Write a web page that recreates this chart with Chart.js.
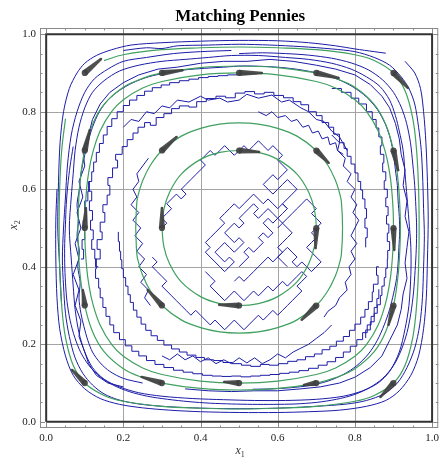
<!DOCTYPE html>
<html>
<head>
<meta charset="utf-8">
<script src="https://cdn.jsdelivr.net/npm/chart.js@4.4.0/dist/chart.umd.min.js"></script>
<style>
  html, body { margin: 0; padding: 0; background: #fff; }
  #wrap { width: 443px; height: 460px; }
</style>
</head>
<body>
<div id="wrap"><canvas id="chart" width="443" height="460"></canvas></div>
<script>
// axis range / ticks
const axisMin = -0.016, axisMax = 1.016;
const gridAt = [0.2, 0.4, 0.6, 0.8];
const majorTicks = [0, 0.2, 0.4, 0.6, 0.8, 1.0];
const minorTicks = [0.05, 0.1, 0.15, 0.25, 0.3, 0.35, 0.45, 0.5, 0.55, 0.65, 0.7, 0.75, 0.85, 0.9, 0.95];

// unit square
const boxX = [0, 1, 1, 0, 0];
const boxY = [0, 0, 1, 1, 0];

// flow arrows (start on grid, end point)
const arrowFrom = [
  [0.1,0.9],[0.3,0.9],[0.5,0.9],[0.7,0.9],[0.9,0.9],[0.9,0.7],[0.9,0.5],[0.9,0.3],
  [0.9,0.1],[0.7,0.1],[0.5,0.1],[0.3,0.1],[0.1,0.1],[0.1,0.3],[0.1,0.5],[0.1,0.7],
  [0.3,0.7],[0.5,0.7],[0.7,0.7],[0.7,0.5],[0.7,0.3],[0.5,0.3],[0.3,0.3],[0.3,0.5]
];
const arrowTo = [
  [0.142,0.936],[0.353,0.907],[0.559,0.9],[0.758,0.887],[0.938,0.861],[0.912,0.649],[0.902,0.443],[0.887,0.25],
  [0.866,0.064],[0.668,0.095],[0.461,0.103],[0.247,0.116],[0.067,0.134],[0.095,0.34],[0.103,0.552],[0.113,0.753],
  [0.338,0.735],[0.552,0.696],[0.732,0.668],[0.698,0.448],[0.662,0.263],[0.448,0.302],[0.263,0.34],[0.3,0.552]
];

// green orbits
const green1 = [0.3,0.5, 0.305,0.548, 0.32,0.593, 0.35,0.639, 0.4,0.677, 0.45,0.695, 0.5,0.7, 0.55,0.695, 0.6,0.677, 0.65,0.639, 0.68,0.593, 0.695,0.548, 0.7,0.5, 0.695,0.452, 0.68,0.407, 0.65,0.361, 0.6,0.323, 0.55,0.305, 0.5,0.3, 0.45,0.305, 0.4,0.323, 0.35,0.361, 0.32,0.407, 0.305,0.452, 0.3,0.5];
const green2 = [0.232,0.5, 0.235,0.568, 0.24,0.591, 0.25,0.622, 0.27,0.662, 0.3,0.7, 0.35,0.737, 0.4,0.757, 0.45,0.768, 0.5,0.771, 0.55,0.768, 0.6,0.757, 0.65,0.737, 0.7,0.7, 0.73,0.662, 0.75,0.622, 0.76,0.591, 0.765,0.568, 0.768,0.5, 0.765,0.432, 0.76,0.409, 0.75,0.378, 0.73,0.338, 0.7,0.3, 0.65,0.263, 0.6,0.243, 0.55,0.232, 0.5,0.229, 0.45,0.232, 0.4,0.243, 0.35,0.263, 0.3,0.3, 0.27,0.338, 0.25,0.378, 0.24,0.409, 0.235,0.432, 0.232,0.5];
const green3 = [0.1,0.5, 0.101,0.547, 0.105,0.603, 0.11,0.642, 0.12,0.692, 0.14,0.751, 0.17,0.801, 0.2,0.831, 0.25,0.861, 0.3,0.878, 0.4,0.895, 0.5,0.9, 0.6,0.895, 0.7,0.878, 0.75,0.861, 0.8,0.831, 0.83,0.801, 0.86,0.751, 0.88,0.692, 0.89,0.642, 0.895,0.603, 0.899,0.547, 0.9,0.5, 0.899,0.453, 0.895,0.397, 0.89,0.358, 0.88,0.308, 0.86,0.249, 0.83,0.199, 0.8,0.169, 0.75,0.139, 0.7,0.122, 0.6,0.105, 0.5,0.1, 0.4,0.105, 0.3,0.122, 0.25,0.139, 0.2,0.169, 0.17,0.199, 0.14,0.249, 0.12,0.308, 0.11,0.358, 0.105,0.397, 0.101,0.453, 0.1,0.5];
const green4 = [0.082,0.5, 0.085,0.584, 0.09,0.639, 0.1,0.7, 0.12,0.767, 0.15,0.819, 0.2,0.863, 0.25,0.886, 0.3,0.9, 0.4,0.914, 0.5,0.918, 0.6,0.914, 0.7,0.9, 0.75,0.886, 0.8,0.863, 0.85,0.819, 0.88,0.767, 0.9,0.7, 0.91,0.639, 0.915,0.584, 0.918,0.5, 0.915,0.416, 0.91,0.361, 0.9,0.3, 0.88,0.233, 0.85,0.181, 0.8,0.137, 0.75,0.114, 0.7,0.1, 0.6,0.086, 0.5,0.082, 0.4,0.086, 0.3,0.1, 0.25,0.114, 0.2,0.137, 0.15,0.181, 0.12,0.233, 0.1,0.3, 0.09,0.361, 0.085,0.416, 0.082,0.5];
const green5 = [0.15,0.932, 0.2,0.947, 0.3,0.96, 0.4,0.965, 0.5,0.967, 0.6,0.965, 0.7,0.96, 0.8,0.947, 0.85,0.932, 0.9,0.9, 0.93,0.854, 0.95,0.782, 0.96,0.698, 0.965,0.601, 0.9665,0.5, 0.965,0.399, 0.96,0.302, 0.95,0.218, 0.93,0.146, 0.9,0.1, 0.85,0.068, 0.8,0.053, 0.7,0.04, 0.6,0.035, 0.5,0.033, 0.4,0.035, 0.3,0.04, 0.2,0.053, 0.15,0.068, 0.1,0.1, 0.07,0.146, 0.05,0.218, 0.04,0.302, 0.035,0.399, 0.0335,0.5, 0.035,0.601, 0.04,0.698, 0.05,0.782];

// blue sample paths hugging the border
const pathOuterA = [0.04,0.30, 0.035,0.40, 0.03,0.50, 0.032,0.62, 0.036,0.72, 0.045,0.80, 0.06,0.86, 0.08,0.90, 0.1,0.925, 0.13,0.945, 0.17,0.96, 0.22,0.972, 0.3,0.978, 0.4,0.982, 0.5,0.984, 0.6,0.983, 0.68,0.978, 0.75,0.97, 0.8,0.962, 0.85,0.955, 0.88,0.951];
const pathOuterB = [0.2,0.958, 0.26,0.965, 0.3,0.963, 0.34,0.97, 0.42,0.972, 0.5,0.974, 0.58,0.972, 0.66,0.968, 0.74,0.962, 0.8,0.955, 0.85,0.94, 0.89,0.92, 0.92,0.89, 0.94,0.86, 0.955,0.82, 0.965,0.76, 0.972,0.70, 0.976,0.62, 0.978,0.55, 0.98,0.48, 0.978,0.40, 0.975,0.32, 0.968,0.25, 0.955,0.19, 0.935,0.14, 0.91,0.10, 0.875,0.072, 0.83,0.055, 0.78,0.046, 0.7,0.04, 0.62,0.036, 0.54,0.034, 0.46,0.034, 0.38,0.036, 0.3,0.04, 0.24,0.046, 0.19,0.056, 0.15,0.072, 0.12,0.095, 0.095,0.125, 0.075,0.165, 0.06,0.22, 0.05,0.28, 0.045,0.35, 0.042,0.42, 0.045,0.5, 0.05,0.58, 0.055,0.66, 0.065,0.74, 0.08,0.8, 0.1,0.85, 0.125,0.885, 0.16,0.91, 0.2,0.93, 0.26,0.94, 0.33,0.95, 0.4,0.955, 0.48,0.958];
const pathOuterC = [0.07,0.35, 0.065,0.42, 0.06,0.5, 0.065,0.58, 0.07,0.64, 0.075,0.7, 0.085,0.76, 0.1,0.81, 0.12,0.85, 0.15,0.88, 0.19,0.905, 0.24,0.92, 0.3,0.93, 0.36,0.935, 0.42,0.94, 0.48,0.945, 0.55,0.945, 0.62,0.94, 0.68,0.935, 0.74,0.925, 0.79,0.91, 0.83,0.89, 0.865,0.865, 0.89,0.83, 0.905,0.79, 0.915,0.75, 0.925,0.7, 0.93,0.64, 0.935,0.58, 0.94,0.52, 0.945,0.45, 0.945,0.38, 0.94,0.3, 0.93,0.24, 0.915,0.18, 0.89,0.13, 0.86,0.1, 0.82,0.08, 0.77,0.066, 0.7,0.058, 0.62,0.055, 0.54,0.055, 0.46,0.057, 0.38,0.06, 0.3,0.066, 0.24,0.075, 0.19,0.09, 0.15,0.11, 0.12,0.14, 0.1,0.18, 0.085,0.23, 0.075,0.29, 0.07,0.35];
const pathOuterD = [0.93,0.93, 0.955,0.9, 0.97,0.86, 0.978,0.8, 0.984,0.72, 0.988,0.62, 0.99,0.52, 0.988,0.42, 0.985,0.32, 0.978,0.24, 0.965,0.17, 0.945,0.12, 0.915,0.08, 0.88,0.055, 0.83,0.04, 0.76,0.03, 0.68,0.026, 0.6,0.024, 0.5,0.024, 0.4,0.026, 0.32,0.03, 0.25,0.036, 0.19,0.045, 0.14,0.06, 0.1,0.085, 0.07,0.12, 0.05,0.17, 0.035,0.24, 0.028,0.32, 0.025,0.42, 0.025,0.52, 0.028,0.6];
const pathOuterE = [0.25,0.1, 0.2,0.112, 0.165,0.13, 0.14,0.152, 0.12,0.18, 0.108,0.21, 0.098,0.245, 0.09,0.28, 0.085,0.32, 0.088,0.36, 0.082,0.4, 0.086,0.44, 0.08,0.48, 0.084,0.52, 0.08,0.56, 0.086,0.6, 0.09,0.64, 0.098,0.68, 0.108,0.72, 0.12,0.76, 0.138,0.8, 0.16,0.83, 0.19,0.855, 0.225,0.875, 0.265,0.89, 0.31,0.9, 0.36,0.908, 0.41,0.912, 0.46,0.915, 0.51,0.918, 0.56,0.917, 0.61,0.914, 0.66,0.908, 0.71,0.898, 0.755,0.884, 0.795,0.864, 0.83,0.838, 0.858,0.806, 0.878,0.77, 0.892,0.73, 0.9,0.69, 0.905,0.65, 0.91,0.61, 0.912,0.57, 0.915,0.53, 0.916,0.49, 0.914,0.45, 0.912,0.41, 0.908,0.37, 0.9,0.33, 0.89,0.29, 0.876,0.25, 0.858,0.21, 0.835,0.175, 0.805,0.145, 0.77,0.122, 0.73,0.105, 0.685,0.094, 0.635,0.088, 0.585,0.085, 0.535,0.084];
const pathOuterF = [0.5,0.95, 0.56,0.952, 0.62,0.95, 0.68,0.946, 0.74,0.938, 0.79,0.926, 0.835,0.908, 0.872,0.882, 0.9,0.85, 0.92,0.812, 0.934,0.77, 0.944,0.72, 0.95,0.665, 0.955,0.61, 0.958,0.555, 0.96,0.5, 0.959,0.445, 0.956,0.39, 0.952,0.335, 0.945,0.28, 0.935,0.23, 0.92,0.185, 0.9,0.145, 0.872,0.112, 0.838,0.088, 0.798,0.07, 0.752,0.058, 0.7,0.05, 0.645,0.046, 0.59,0.045, 0.535,0.045, 0.48,0.046, 0.425,0.048, 0.37,0.052, 0.315,0.058, 0.262,0.066, 0.215,0.078, 0.175,0.094, 0.14,0.116, 0.112,0.144, 0.09,0.178, 0.074,0.218, 0.062,0.262, 0.054,0.31, 0.05,0.36, 0.048,0.41, 0.048,0.46, 0.05,0.51, 0.052,0.56, 0.056,0.61, 0.062,0.66, 0.07,0.71];

// blue zigzag paths in the middle ring
const pathZig = [0.2,0.09, 0.16,0.1, 0.13,0.12, 0.11,0.15, 0.1,0.18, 0.085,0.22, 0.09,0.26, 0.075,0.3, 0.085,0.34, 0.07,0.38, 0.085,0.42, 0.075,0.46, 0.09,0.5, 0.08,0.54, 0.095,0.58, 0.085,0.62, 0.1,0.66, 0.095,0.7, 0.11,0.74, 0.12,0.78, 0.14,0.82, 0.165,0.85, 0.2,0.875, 0.24,0.895, 0.29,0.91, 0.34,0.915, 0.4,0.925, 0.46,0.93, 0.52,0.93, 0.58,0.935, 0.64,0.93, 0.7,0.92, 0.75,0.91, 0.8,0.895, 0.84,0.87, 0.87,0.84, 0.89,0.81, 0.905,0.77, 0.915,0.73, 0.92,0.69, 0.93,0.65, 0.925,0.61, 0.935,0.57, 0.93,0.53, 0.94,0.49, 0.935,0.45, 0.93,0.41, 0.935,0.37, 0.925,0.33, 0.92,0.29, 0.91,0.25, 0.89,0.21, 0.87,0.17, 0.84,0.14, 0.8,0.115, 0.76,0.1, 0.71,0.09, 0.66,0.085, 0.6,0.08, 0.54,0.08, 0.48,0.078, 0.42,0.08, 0.36,0.085];
const pathTopZig = [0.2,0.76, 0.22,0.78, 0.24,0.775, 0.26,0.8, 0.28,0.795, 0.3,0.815, 0.32,0.81, 0.34,0.83, 0.37,0.825, 0.4,0.84, 0.42,0.83, 0.45,0.835, 0.47,0.825, 0.5,0.83, 0.52,0.845, 0.55,0.835, 0.585,0.843, 0.61,0.825, 0.63,0.83, 0.66,0.81, 0.68,0.8, 0.7,0.78, 0.72,0.775, 0.74,0.75, 0.76,0.735, 0.78,0.7];
const zigMidRight = [0.74,0.74, 0.76,0.72, 0.755,0.7, 0.775,0.68, 0.77,0.66, 0.79,0.64, 0.78,0.62, 0.8,0.6, 0.79,0.58, 0.805,0.56, 0.795,0.54, 0.81,0.52, 0.8,0.5, 0.79,0.48, 0.805,0.46, 0.79,0.44, 0.8,0.42, 0.785,0.4, 0.79,0.38, 0.775,0.36, 0.78,0.34, 0.76,0.32, 0.75,0.3, 0.73,0.285, 0.72,0.27];
const zigBottom = [0.3,0.17, 0.32,0.16, 0.34,0.175, 0.36,0.16, 0.38,0.17, 0.4,0.155, 0.42,0.165, 0.44,0.15, 0.46,0.16, 0.48,0.15, 0.5,0.165, 0.52,0.152, 0.54,0.165, 0.56,0.15, 0.58,0.16, 0.6,0.175, 0.62,0.165, 0.64,0.18, 0.66,0.19, 0.68,0.2, 0.7,0.215, 0.72,0.23, 0.74,0.25];
const zigLeftMid = [0.27,0.3, 0.255,0.32, 0.265,0.34, 0.245,0.36, 0.26,0.38, 0.24,0.4, 0.255,0.42, 0.235,0.44, 0.25,0.46, 0.23,0.48, 0.245,0.5, 0.225,0.52, 0.24,0.54, 0.22,0.56, 0.235,0.58, 0.225,0.6, 0.24,0.62, 0.235,0.64, 0.25,0.66, 0.265,0.68];
const zigUpperRight = [0.55,0.8, 0.57,0.79, 0.585,0.8, 0.6,0.785, 0.62,0.79, 0.635,0.775, 0.65,0.78, 0.665,0.76, 0.68,0.765, 0.69,0.745, 0.705,0.75, 0.715,0.73, 0.73,0.735, 0.735,0.715, 0.75,0.72, 0.755,0.7, 0.77,0.69];

// blue staircase paths
const stairTop = [0.135,0.40, 0.128,0.42, 0.14,0.445, 0.132,0.47, 0.145,0.49, 0.14,0.515, 0.152,0.54, 0.147,0.56, 0.158,0.585, 0.165,0.61, 0.16,0.63, 0.172,0.655, 0.185,0.675, 0.18,0.69, 0.197,0.71, 0.21,0.728, 0.225,0.745, 0.238,0.76, 0.255,0.772, 0.27,0.765, 0.285,0.785, 0.305,0.795, 0.325,0.808, 0.345,0.815, 0.37,0.812, 0.39,0.826, 0.415,0.834, 0.44,0.84, 0.465,0.836, 0.49,0.848, 0.515,0.852, 0.54,0.846, 0.565,0.85, 0.59,0.842, 0.615,0.836, 0.64,0.826, 0.66,0.818, 0.68,0.8, 0.7,0.79, 0.715,0.772, 0.732,0.76, 0.745,0.742, 0.76,0.72, 0.772,0.705, 0.78,0.685, 0.79,0.665, 0.8,0.642, 0.808,0.62, 0.815,0.598, 0.82,0.575, 0.826,0.55, 0.83,0.525, 0.826,0.5, 0.832,0.475, 0.828,0.45];
const stairBottom = [0.862,0.40, 0.856,0.378, 0.86,0.355, 0.848,0.335, 0.845,0.31, 0.835,0.29, 0.826,0.27, 0.815,0.252, 0.8,0.236, 0.786,0.22, 0.77,0.208, 0.752,0.195, 0.735,0.186, 0.715,0.175, 0.695,0.168, 0.672,0.16, 0.65,0.156, 0.626,0.15, 0.602,0.146, 0.578,0.148, 0.555,0.143, 0.53,0.146, 0.506,0.15, 0.482,0.153, 0.458,0.158, 0.434,0.16, 0.41,0.166, 0.388,0.172, 0.365,0.18, 0.345,0.188, 0.325,0.198, 0.305,0.21, 0.288,0.222, 0.272,0.236, 0.258,0.252, 0.246,0.27, 0.235,0.288, 0.226,0.308, 0.218,0.328, 0.212,0.35, 0.206,0.372, 0.2,0.395, 0.196,0.418, 0.193,0.44, 0.19,0.465, 0.187,0.49];
const stairLow = [0.115,0.62, 0.11,0.595, 0.118,0.57, 0.112,0.545, 0.12,0.52, 0.115,0.495, 0.122,0.47, 0.118,0.445, 0.126,0.42, 0.13,0.395, 0.128,0.37, 0.136,0.345, 0.14,0.32, 0.147,0.295, 0.155,0.272, 0.165,0.25, 0.175,0.23, 0.19,0.212, 0.205,0.196, 0.222,0.182, 0.24,0.17, 0.26,0.158, 0.282,0.148, 0.305,0.14, 0.33,0.133, 0.355,0.128, 0.38,0.124, 0.405,0.12, 0.43,0.118, 0.455,0.117, 0.48,0.118, 0.505,0.116, 0.53,0.118, 0.555,0.12, 0.58,0.122, 0.605,0.125, 0.63,0.128, 0.655,0.132, 0.68,0.138, 0.705,0.146, 0.728,0.155, 0.75,0.166, 0.77,0.18, 0.788,0.195, 0.805,0.212, 0.82,0.23, 0.832,0.25, 0.842,0.272, 0.85,0.295, 0.857,0.318, 0.862,0.342];
const stairRight = [0.74,0.86, 0.765,0.85, 0.79,0.835, 0.81,0.82, 0.83,0.8, 0.845,0.78, 0.855,0.758, 0.862,0.735, 0.87,0.712, 0.866,0.69, 0.875,0.668, 0.872,0.645, 0.88,0.622, 0.876,0.6, 0.884,0.578, 0.88,0.555, 0.886,0.532, 0.882,0.51, 0.888,0.487, 0.884,0.465, 0.89,0.442, 0.885,0.42, 0.884,0.396, 0.88,0.372, 0.876,0.35, 0.87,0.326, 0.866,0.302, 0.858,0.28, 0.85,0.258, 0.84,0.237, 0.828,0.216];
const stairLeft = [0.09,0.42, 0.097,0.445, 0.093,0.47, 0.1,0.495, 0.096,0.52, 0.104,0.545, 0.1,0.57, 0.108,0.595, 0.112,0.62, 0.118,0.645, 0.123,0.67, 0.13,0.695, 0.138,0.718, 0.148,0.74, 0.158,0.762, 0.17,0.782, 0.184,0.8, 0.2,0.816, 0.216,0.83, 0.235,0.842, 0.255,0.853, 0.275,0.862, 0.298,0.869, 0.32,0.875, 0.345,0.88, 0.37,0.884, 0.395,0.888, 0.42,0.891, 0.445,0.893, 0.47,0.895, 0.495,0.897, 0.52,0.898, 0.545,0.897];

// blue lattice walks near the centre
const latticeA = [0.5,0.4, 0.5125,0.4125, 0.525,0.425, 0.5125,0.4375, 0.525,0.45, 0.5375,0.4375, 0.55,0.45, 0.5625,0.4625, 0.55,0.475, 0.5625,0.4875, 0.575,0.475, 0.5875,0.4875, 0.575,0.5, 0.5625,0.5125, 0.575,0.525, 0.5875,0.5125, 0.6,0.525, 0.5875,0.5375, 0.575,0.55, 0.5625,0.5375, 0.55,0.525, 0.5375,0.5375, 0.55,0.55, 0.5375,0.5625, 0.525,0.55, 0.5125,0.5375, 0.5,0.525, 0.5125,0.5125, 0.5,0.5, 0.4875,0.5125, 0.475,0.5, 0.4625,0.4875, 0.475,0.475, 0.4875,0.4625, 0.5,0.475, 0.5125,0.4625, 0.5,0.45, 0.4875,0.4375, 0.475,0.45, 0.4625,0.4625, 0.45,0.45, 0.4375,0.4375, 0.45,0.425, 0.4625,0.4125, 0.475,0.425, 0.4875,0.4125, 0.475,0.4, 0.4625,0.3875, 0.45,0.4, 0.4375,0.4125, 0.425,0.425, 0.4125,0.4375, 0.425,0.45, 0.4125,0.4625, 0.425,0.475, 0.4375,0.4875, 0.45,0.5, 0.4625,0.5125, 0.45,0.525, 0.4625,0.5375, 0.475,0.55, 0.4875,0.5625, 0.5,0.55, 0.5125,0.5625, 0.525,0.575, 0.5375,0.5875, 0.55,0.575, 0.5625,0.5625, 0.575,0.575, 0.5875,0.5625, 0.6,0.55, 0.6125,0.5625, 0.625,0.55, 0.6125,0.5375, 0.6,0.525, 0.6125,0.5125, 0.625,0.5, 0.6375,0.4875, 0.625,0.475, 0.6125,0.4625, 0.6,0.45, 0.6125,0.4375, 0.6,0.425, 0.5875,0.4125, 0.575,0.425, 0.5625,0.4125, 0.55,0.4, 0.5375,0.3875, 0.525,0.375, 0.5125,0.3625, 0.5,0.375, 0.4875,0.3625];
const latticeB = [0.3,0.5, 0.3125,0.5125, 0.3,0.525, 0.3125,0.5375, 0.325,0.55, 0.3125,0.5625, 0.325,0.575, 0.3375,0.5875, 0.35,0.575, 0.3625,0.5875, 0.35,0.6, 0.3625,0.6125, 0.375,0.625, 0.3875,0.6375, 0.4,0.65, 0.4125,0.6625, 0.4,0.675, 0.4125,0.6875, 0.425,0.7, 0.4375,0.6875, 0.45,0.7, 0.4625,0.7125, 0.475,0.7, 0.4875,0.6875, 0.5,0.7, 0.5125,0.7125, 0.525,0.7, 0.5375,0.7125, 0.55,0.725, 0.5625,0.7125, 0.575,0.7, 0.5875,0.7125, 0.6,0.7, 0.6125,0.6875, 0.6,0.675, 0.6125,0.6625, 0.625,0.65, 0.6125,0.6375, 0.6,0.625, 0.5875,0.6375, 0.575,0.625, 0.5625,0.6125, 0.575,0.6, 0.5875,0.5875, 0.6,0.6, 0.6125,0.6125, 0.625,0.625, 0.6375,0.6125, 0.65,0.6, 0.6375,0.5875, 0.625,0.575, 0.6125,0.5625, 0.625,0.55];
const latticeC = [0.275,0.425, 0.2875,0.4125, 0.275,0.4, 0.2875,0.3875, 0.3,0.375, 0.3125,0.3625, 0.3,0.35, 0.3125,0.3375, 0.325,0.325, 0.3375,0.3125, 0.35,0.3, 0.3625,0.2875, 0.375,0.275, 0.3875,0.2875, 0.4,0.275, 0.4125,0.2625, 0.425,0.25, 0.4375,0.2625, 0.45,0.25, 0.4625,0.2375, 0.475,0.25, 0.4875,0.2625, 0.5,0.25, 0.5125,0.2375, 0.525,0.25, 0.5375,0.2625, 0.55,0.275, 0.5625,0.2625, 0.575,0.275, 0.5875,0.2875, 0.6,0.275, 0.6125,0.2875, 0.625,0.3, 0.6375,0.3125, 0.65,0.325, 0.6625,0.3375, 0.65,0.35, 0.6625,0.3625, 0.675,0.375, 0.6625,0.3875, 0.65,0.375, 0.6375,0.3625, 0.625,0.35, 0.6125,0.3625, 0.6,0.35, 0.5875,0.3375, 0.575,0.35, 0.5625,0.3375, 0.55,0.325, 0.5375,0.3375, 0.525,0.325, 0.5125,0.3125, 0.5,0.325, 0.4875,0.3375, 0.475,0.325, 0.4625,0.3125, 0.45,0.325, 0.4375,0.3375, 0.425,0.35, 0.4375,0.3625, 0.425,0.375, 0.4125,0.3875];
const latticeD = [0.6,0.5, 0.6125,0.5125, 0.625,0.525, 0.6375,0.5375, 0.65,0.55, 0.6625,0.5625, 0.675,0.575, 0.6875,0.5625, 0.7,0.55, 0.6875,0.5375, 0.7,0.525, 0.7125,0.5125, 0.7,0.5, 0.6875,0.4875, 0.7,0.475, 0.6875,0.4625, 0.675,0.45, 0.6875,0.4375, 0.7,0.425, 0.7125,0.4125, 0.7,0.4, 0.6875,0.3875, 0.675,0.4, 0.6625,0.4125, 0.65,0.4, 0.6375,0.4125, 0.65,0.425, 0.6375,0.4375, 0.625,0.45, 0.6125,0.4375, 0.6,0.425, 0.6125,0.4125, 0.625,0.4];

const BLUE = '#1c1ca8';
const GREEN = '#40a060';
const SERIF = '"Liberation Serif", "DejaVu Serif", serif';

const pairs = (flat) => {
  const out = [];
  for (let i = 0; i < flat.length; i += 2) out.push({ x: flat[i], y: flat[i + 1] });
  return out;
};

const line = (flat, color, width, extra) => Object.assign({
  data: pairs(flat),
  showLine: true,
  borderColor: color,
  borderWidth: width,
  pointRadius: 0,
  fill: false
}, extra || {});

const datasets = [];
// greens on top of blue
[green1, green2, green3, green4, green5].forEach(g =>
  datasets.push(line(g, GREEN, 1.2, { tension: 0.4, order: 1 })));
// black unit square
datasets.push({
  data: boxX.map((v, i) => ({ x: v, y: boxY[i] })),
  showLine: true, borderColor: '#333', borderWidth: 2, pointRadius: 0, order: 2
});
[pathOuterA, pathOuterB, pathOuterC, pathOuterD, pathOuterE, pathOuterF].forEach(p =>
  datasets.push(line(p, BLUE, 1, { tension: 0.3, order: 3 })));
[pathZig, pathTopZig, zigMidRight, zigBottom, zigLeftMid, zigUpperRight,
 latticeA, latticeB, latticeC, latticeD].forEach(p =>
  datasets.push(line(p, BLUE, 1, { order: 3 })));
[stairTop, stairBottom, stairLow, stairRight, stairLeft].forEach(p =>
  datasets.push(line(p, BLUE, 1, { stepped: true, order: 3 })));

function isMajor(v){
  return Math.abs(v / 0.2 - Math.round(v / 0.2)) < 1e-6;
}

const decor = {
  id: 'decor',
  beforeDatasetsDraw(chart){
    const { ctx, chartArea: a, scales: { x, y } } = chart;
    ctx.save();
    ctx.strokeStyle = '#a4a4a4';
    ctx.lineWidth = 1;
    gridAt.forEach(v => {
      const px = Math.round(x.getPixelForValue(v)) + 0.5;
      const py = Math.round(y.getPixelForValue(v)) + 0.5;
      ctx.beginPath(); ctx.moveTo(px, a.top); ctx.lineTo(px, a.bottom); ctx.stroke();
      ctx.beginPath(); ctx.moveTo(a.left, py); ctx.lineTo(a.right, py); ctx.stroke();
    });
    ctx.restore();
  },
  afterDatasetsDraw(chart){
    const { ctx, scales: { x, y } } = chart;
    ctx.save();
    ctx.fillStyle = 'rgba(64,64,64,0.92)';
    arrowFrom.forEach((p, i) => {
      const x0 = x.getPixelForValue(p[0]), y0 = y.getPixelForValue(p[1]);
      const x1 = x.getPixelForValue(arrowTo[i][0]), y1 = y.getPixelForValue(arrowTo[i][1]);
      const len = Math.hypot(x1 - x0, y1 - y0);
      const nx = -(y1 - y0) / len, ny = (x1 - x0) / len;
      const r0 = 3.1, r1 = 1.2;
      ctx.beginPath();
      ctx.moveTo(x0 + nx * r0, y0 + ny * r0);
      ctx.lineTo(x1 + nx * r1, y1 + ny * r1);
      ctx.lineTo(x1 - nx * r1, y1 - ny * r1);
      ctx.lineTo(x0 - nx * r0, y0 - ny * r0);
      ctx.closePath();
      ctx.fill();
      ctx.beginPath(); ctx.arc(x0, y0, r0, 0, Math.PI * 2); ctx.fill();
      ctx.beginPath(); ctx.arc(x1, y1, r1, 0, Math.PI * 2); ctx.fill();
    });
    ctx.restore();
  },
  afterDraw(chart){
    const { ctx, chartArea: a, scales: { x, y } } = chart;
    ctx.save();
    // frame
    ctx.strokeStyle = '#8a8a8a';
    ctx.lineWidth = 1;
    ctx.strokeRect(a.left + 0.5, a.top + 0.5, a.right - a.left - 1, a.bottom - a.top - 1);
    // inward ticks on all four sides
    const tick = (v, len) => {
      const px = Math.round(x.getPixelForValue(v)) + 0.5;
      const py = Math.round(y.getPixelForValue(v)) + 0.5;
      ctx.beginPath();
      ctx.moveTo(px, a.bottom); ctx.lineTo(px, a.bottom - len);
      ctx.moveTo(px, a.top); ctx.lineTo(px, a.top + len);
      ctx.moveTo(a.left, py); ctx.lineTo(a.left + len, py);
      ctx.moveTo(a.right, py); ctx.lineTo(a.right - len, py);
      ctx.stroke();
    };
    majorTicks.forEach(v => tick(v, 5));
    minorTicks.forEach(v => tick(v, 2.5));

    // title
    ctx.fillStyle = '#000';
    ctx.font = 'bold 17px ' + SERIF;
    ctx.textAlign = 'center';
    ctx.textBaseline = 'alphabetic';
    ctx.fillText('Matching Pennies', (a.left + a.right) / 2 + 1, 21);

    // axis labels with subscripts
    const label = (main, sub, cx, cy) => {
      ctx.font = 'italic 12px ' + SERIF;
      const w1 = ctx.measureText(main).width;
      ctx.font = '8px ' + SERIF;
      const w2 = ctx.measureText(sub).width;
      const start = cx - (w1 + w2) / 2;
      ctx.textAlign = 'left';
      ctx.font = 'italic 12px ' + SERIF;
      ctx.fillText(main, start, cy);
      ctx.font = '8px ' + SERIF;
      ctx.fillText(sub, start + w1, cy + 2.5);
    };
    ctx.fillStyle = '#333';
    label('x', '1', (a.left + a.right) / 2 + 1, 454);
    ctx.translate(17, (a.top + a.bottom) / 2 - 3);
    ctx.rotate(-Math.PI / 2);
    label('x', '2', 0, 0);
    ctx.restore();
  }
};

const tickCfg = {
  stepSize: 0.2,
  includeBounds: false,
  autoSkip: false,
  maxRotation: 0,
  color: '#222',
  font: { family: SERIF, size: 11 },
  callback: (v) => isMajor(v) ? Number(v).toFixed(1) : ''
};

new Chart(document.getElementById('chart'), {
  type: 'scatter',
  data: { datasets },
  options: {
    responsive: false,
    animation: false,
    devicePixelRatio: 1,
    layout: { padding: { top: 28, right: 3, left: 0, bottom: 0 } },
    plugins: { legend: { display: false }, tooltip: { enabled: false }, title: { display: false } },
    scales: {
      x: {
        type: 'linear', position: 'bottom', min: axisMin, max: axisMax,
        grid: { display: false, drawTicks: false },
        border: { display: false },
        ticks: Object.assign({ padding: 4 }, tickCfg),
        afterFit: (s) => { s.height = 32; }
      },
      y: {
        type: 'linear', position: 'left', min: axisMin, max: axisMax,
        grid: { display: false, drawTicks: false },
        border: { display: false },
        ticks: Object.assign({ padding: 4 }, tickCfg),
        afterFit: (s) => { s.width = 40; }
      }
    }
  },
  plugins: [decor]
});
</script>
</body>
</html>
